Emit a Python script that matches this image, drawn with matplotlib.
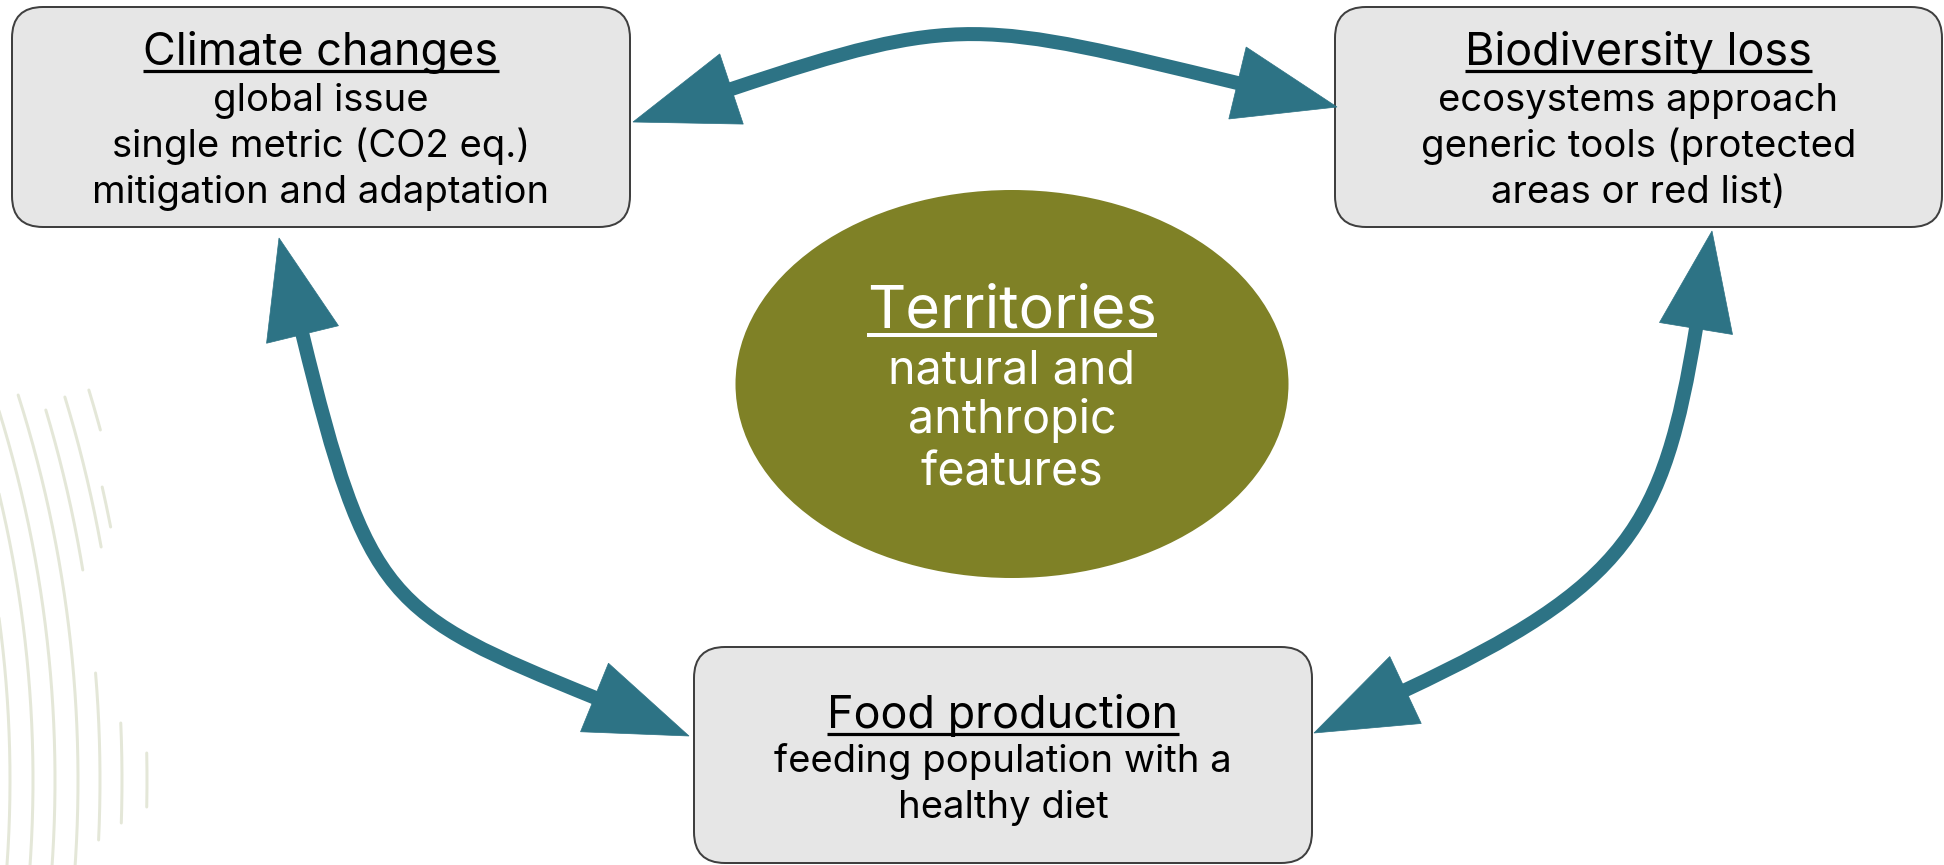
import matplotlib
matplotlib.use("Agg")
import matplotlib.pyplot as plt
from matplotlib.patches import FancyBboxPatch, Ellipse, Polygon, PathPatch
from matplotlib.path import Path
import numpy as np

# ---------------- content ----------------
box_titles = ["Climate changes", "Biodiversity loss", "Food production"]
box_lines = [
    ["global issue", "single metric (CO2 eq.)", "mitigation and adaptation"],
    ["ecosystems approach", "generic tools (protected", "areas or red list)"],
    ["feeding population with a", "healthy diet"],
]
center_title = "Territories"
center_lines = ["natural and", "anthropic", "features"]

# ---------------- layout (pixels) ----------------
W, H = 1944, 865
box_rects = [(12, 7, 630, 227), (1335, 7, 1942, 227), (694, 647, 1312, 863)]
title_baselines = [65, 65, 728]
body_first_baseline = [111, 111, 772]
body_step = 46
title_target_w = [367, 335, 350]
body_target = [(2, 420), (1, 451), (0, 475)]   # (line index, width)

ell_center = (1012, 384)
ell_size = (553, 388)
center_title_baseline = 328
center_body_baselines = [383, 433, 485]
center_title_w = 289
center_body_w = (0, 247)

# arrows: tip0, base0, handle0, tip1, base1, handle1
arrows = [
    ((633, 122), (731.5, 89), 241, (1337, 107), (1237.5, 83), 264),
    ((279, 238), (302.5, 334.5), 275, (689, 736), (594.5, 697.5), 223),
    ((1712, 231), (1696, 328.5), 201, (1314, 733), (1405.5, 690), 246),
]
head_half_w = 37
shaft_px = 14

# background decoration arcs: (radius, y_start, y_end)
deco_center = (-1190, 780)
deco_arcs = [(1200, 395, 865), (1223, 395, 865), (1245, 395, 865), (1268, 395, 865),
             (1290, 410, 570), (1290, 673, 840), (1312, 397, 547), (1312, 723, 823),
             (1337, 390, 430), (1325, 487, 527), (1337, 753, 807)]

TEAL = "#2D7385"
BOX_FILL = "#E6E6E6"
BOX_EDGE = "#3F3F3F"
OLIVE = "#7F8126"
DECO = "#E4E7D8"
FONT = ["Inter", "DejaVu Sans"]

fig = plt.figure(figsize=(W / 100, H / 100), dpi=100)
ax = fig.add_axes([0, 0, 1, 1])
ax.set_xlim(0, W)
ax.set_ylim(H, 0)
ax.axis("off")
renderer = fig.canvas.get_renderer()
PT = 72 / 100  # points per pixel

# decoration
cx, cy = deco_center
for r, y0, y1 in deco_arcs:
    ys = np.linspace(y0, y1, 200)
    xs = cx + np.sqrt(r ** 2 - (ys - cy) ** 2)
    ax.plot(xs, ys, color=DECO, lw=3 * PT, solid_capstyle="round", zorder=0)

# boxes
for (x0, y0, x1, y1) in box_rects:
    ax.add_patch(FancyBboxPatch((x0, y0), x1 - x0, y1 - y0,
                                boxstyle="round,pad=0,rounding_size=31",
                                fc=BOX_FILL, ec=BOX_EDGE, lw=2 * PT, zorder=2))

# ellipse
ax.add_patch(Ellipse(ell_center, ell_size[0], ell_size[1], fc=OLIVE, ec="none", zorder=2))


def measure(s, size):
    t = ax.text(0, 0, s, fontsize=size, family=FONT)
    w = t.get_window_extent(renderer).width
    t.remove()
    return w


def fit_size(s, target):
    return 20 * target / measure(s, 20)


title_size = np.mean([fit_size(t, w) for t, w in zip(box_titles, title_target_w)])
body_size = np.mean([fit_size(box_lines[i][li], w) for i, (li, w) in enumerate(body_target)])


def underline(t, y, color, lw):
    bb = t.get_window_extent(renderer).transformed(ax.transData.inverted())
    ax.plot([bb.x0, bb.x1], [y, y], color=color, lw=lw, solid_capstyle="butt", zorder=4)


for i, (x0, y0, x1, y1) in enumerate(box_rects):
    xc = (x0 + x1) / 2
    t = ax.text(xc, title_baselines[i], box_titles[i], fontsize=title_size, family=FONT,
                ha="center", va="baseline", color="black", zorder=4)
    underline(t, title_baselines[i] + 6, "black", 3.2 * PT)
    for k, line in enumerate(box_lines[i]):
        ax.text(xc, body_first_baseline[i] + k * body_step, line, fontsize=body_size,
                family=FONT, ha="center", va="baseline", color="black", zorder=4)

ct_size = fit_size(center_title, center_title_w)
cb_size = fit_size(center_lines[center_body_w[0]], center_body_w[1])
t = ax.text(ell_center[0], center_title_baseline, center_title, fontsize=ct_size, family=FONT,
            ha="center", va="baseline", color="white", zorder=4)
underline(t, center_title_baseline + 7, "white", 4 * PT)
for k, line in enumerate(center_lines):
    ax.text(ell_center[0], center_body_baselines[k], line, fontsize=cb_size, family=FONT,
            ha="center", va="baseline", color="white", zorder=4)


# arrows
def head(tip, base):
    tip = np.array(tip, float)
    base = np.array(base, float)
    d = tip - base
    d /= np.hypot(*d)
    perp = np.array([-d[1], d[0]])
    return Polygon([tip, base + head_half_w * perp, base - head_half_w * perp],
                   closed=True, fc=TEAL, ec=TEAL, lw=0.5, zorder=3)


for tip0, base0, a, tip1, base1, b in arrows:
    p0 = np.array(base0, float)
    p3 = np.array(base1, float)
    u0 = p0 - np.array(tip0, float)
    u0 /= np.hypot(*u0)
    u1 = p3 - np.array(tip1, float)
    u1 /= np.hypot(*u1)
    c1 = p0 + a * u0
    c2 = p3 + b * u1
    # extend shaft a bit into the heads
    s0 = p0 - 6 * u0
    s3 = p3 - 6 * u1
    path = Path([s0, p0, c1, c2, p3, s3],
                [Path.MOVETO, Path.LINETO, Path.CURVE4, Path.CURVE4, Path.CURVE4, Path.LINETO])
    ax.add_patch(PathPatch(path, fc="none", ec=TEAL, lw=shaft_px * PT,
                           capstyle="butt", zorder=3))
    ax.add_patch(head(tip0, base0))
    ax.add_patch(head(tip1, base1))

fig.savefig("out.png", dpi=100, facecolor="white")
